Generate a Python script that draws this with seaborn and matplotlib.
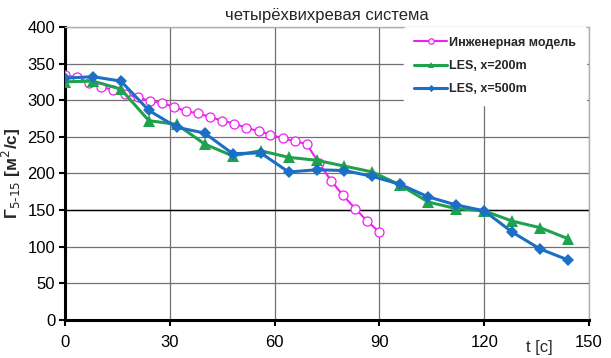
import numpy as np
import pandas as pd
import matplotlib
matplotlib.use('Agg')
import matplotlib.pyplot as plt
import seaborn as sns

# инженерная модель
t_eng = [0, 3.5, 6.9, 10.4, 13.8, 17.3, 20.8, 24.2, 27.7, 31.2, 34.6, 38.1, 41.5, 45.0,
         48.5, 51.9, 55.4, 58.8, 62.3, 65.8, 69.2, 72.7, 76.2, 79.6, 83.1, 86.5, 90.0]
g_eng = [334, 331, 324, 318, 314, 308, 304, 299, 296, 291, 285, 282, 277, 272,
         268, 262, 258, 253, 248, 244, 240, 214, 190, 170, 152, 135, 120]

# LES
t_les = [0, 8, 16, 24, 32, 40, 48, 56, 64, 72, 80, 88, 96, 104, 112, 120, 128, 136, 144]
g_200 = [325, 326, 315, 272, 267, 240, 224, 231, 222, 218, 210, 202, 184, 161, 152, 149, 135, 126, 111]
g_500 = [330, 332, 326, 286, 263, 255, 227, 228, 202, 205, 204, 196, 185, 168, 157, 149, 120, 97, 82]

labels = ['Инженерная модель', 'LES, x=200m', 'LES, x=500m']
title = 'четырёхвихревая система'

sns.set_style('white')
plt.rcParams['font.family'] = ['Liberation Sans', 'DejaVu Sans']

fig = plt.figure(figsize=(6.11, 3.58), dpi=100)
ax = fig.add_axes([0.1064, 0.106, 0.8576, 0.819])

sns.lineplot(x=t_eng, y=g_eng, ax=ax, color='#ee22ee', lw=1.5, marker='o', markersize=6.5,
             markerfacecolor='white', markeredgecolor='#ee22ee', markeredgewidth=0.9,
             label=labels[0], sort=False, zorder=3)
sns.lineplot(x=t_les, y=g_200, ax=ax, color='#1fa24e', lw=2.2, marker='^', markersize=8,
             markeredgewidth=0, label=labels[1], sort=False, zorder=4)
sns.lineplot(x=t_les, y=g_500, ax=ax, color='#1c6fc4', lw=2.2, marker='D', markersize=6,
             markeredgewidth=0, label=labels[2], sort=False, zorder=5)

ax.set_xlim(0, 150)
ax.set_ylim(0, 400)
ax.set_xticks(range(0, 151, 30))
ax.set_yticks(range(0, 401, 50))
ax.grid(True, color='#707070', lw=0.9)
ax.axhline(150, color='black', lw=1.0, zorder=1)
ax.set_axisbelow(True)

for s in ['left', 'bottom']:
    ax.spines[s].set_color('black')
    ax.spines[s].set_linewidth(2.2)
for s in ['top', 'right']:
    ax.spines[s].set_color('#b0b0b0')
    ax.spines[s].set_linewidth(1.0)

ax.tick_params(axis='both', which='both', direction='out', length=4, width=1.5,
               labelsize=12, colors='black')
ax.tick_params(axis='x', pad=7, bottom=True)
ax.tick_params(axis='y', left=True, pad=3)

ax.set_title(title, fontsize=12, pad=5)
ax.set_ylabel('Г$_{5\u201015}$ [м$^2$/с]', fontsize=12.5, fontweight='bold', labelpad=3)
ax.set_xlabel('')
ax.text(0.905, -0.068, 't [c]', transform=ax.transAxes, fontsize=12, ha='center', va='top')

leg = ax.legend(loc='upper right', bbox_to_anchor=(0.995, 1.0), frameon=True,
                prop={'weight': 'bold', 'size': 9}, handlelength=2.6, handletextpad=0.2,
                labelspacing=0.9, borderpad=0.8, borderaxespad=0.0, markerscale=0.6)
leg.get_frame().set_facecolor('white')
leg.get_frame().set_edgecolor('white')
leg.get_frame().set_alpha(1)

fig.savefig('out.png', dpi=100)
